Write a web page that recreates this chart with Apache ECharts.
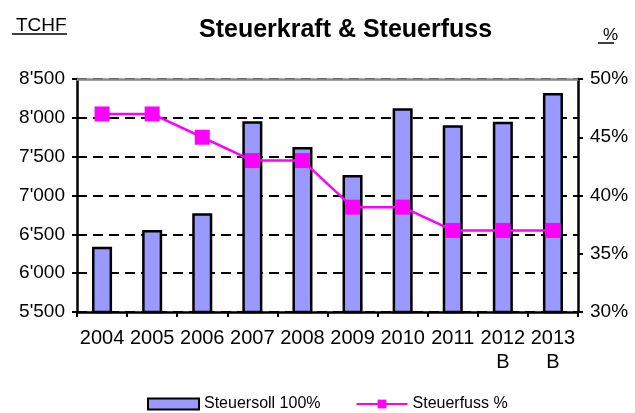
<!DOCTYPE html>
<html>
<head>
<meta charset="utf-8">
<script src="https://cdn.jsdelivr.net/npm/echarts@6/dist/echarts.min.js"></script>
<style>
  html, body { margin: 0; padding: 0; background: #fff; }
  #chart { width: 635px; height: 413px; }
</style>
</head>
<body>
<div id="chart"></div>
<script>
// data
var years = ['2004', '2005', '2006', '2007', '2008', '2009', '2010', '2011', '2012\nB', '2013\nB'];
var steuersoll = [6340, 6555, 6770, 7955, 7625, 7265, 8125, 7905, 7950, 8320];
var steuerfuss = [47, 47, 45, 43, 43, 39, 39, 37, 37, 37];

var font = '"Liberation Sans", Arial, sans-serif';

function fmtThousand(v) {
  var s = String(v);
  return s.length > 3 ? s.slice(0, s.length - 3) + "'" + s.slice(-3) : s;
}

var chart = echarts.init(document.getElementById('chart'));

chart.setOption({
  animation: false,
  title: [
    {
      text: 'Steuerkraft & Steuerfuss',
      left: 194, top: 13,
      textStyle: { fontFamily: font, fontSize: 25, fontWeight: 'bold', color: '#000' }
    },
    {
      text: 'TCHF',
      left: 11, top: 11,
      textStyle: { fontFamily: font, fontSize: 19, fontWeight: 'normal', color: '#000' }
    },
    {
      text: '%',
      left: 598, top: 22,
      textStyle: { fontFamily: font, fontSize: 17, fontWeight: 'normal', color: '#000' }
    }
  ],
  graphic: [
    { type: 'line', shape: { x1: 12, y1: 34, x2: 67, y2: 34 }, style: { stroke: '#000', lineWidth: 1.5 } },
    { type: 'line', shape: { x1: 598, y1: 43, x2: 614, y2: 43 }, style: { stroke: '#000', lineWidth: 1.5 } }
  ],
  legend: {
    top: 396,
    left: 147,
    padding: 0,
    itemGap: 35,
    itemWidth: 51,
    itemHeight: 11,
    textStyle: { fontFamily: font, fontSize: 16, color: '#000' },
    data: [{ name: 'Steuersoll 100%', icon: 'rect' }, { name: 'Steuerfuss %' }]
  },
  grid: { left: 77, right: 57, top: 79, bottom: 101 },
  xAxis: [
    {
      type: 'category',
      data: years,
      axisLine: { lineStyle: { color: '#000', width: 2.5 } },
      axisTick: { show: true, length: 5, lineStyle: { color: '#000', width: 2 } },
      axisLabel: { interval: 0, fontFamily: font, fontSize: 20, color: '#000', margin: 14, lineHeight: 24 }
    },
    {
      type: 'category',
      data: years,
      position: 'top',
      axisLine: { lineStyle: { color: '#888', width: 2.5 } },
      axisTick: { show: false },
      axisLabel: { show: false }
    }
  ],
  yAxis: [
    {
      type: 'value',
      min: 5500, max: 8500, interval: 500,
      axisLine: { show: true, lineStyle: { color: '#000', width: 2.5 } },
      axisTick: { show: true, length: 5, lineStyle: { color: '#000', width: 2 } },
      axisLabel: { fontFamily: font, fontSize: 19, color: '#000', margin: 12, formatter: fmtThousand },
      splitLine: { show: true, lineStyle: { color: '#000', width: 2, type: [10, 6] } }
    },
    {
      type: 'value',
      min: 30, max: 50, interval: 5,
      position: 'right',
      axisLine: { show: true, lineStyle: { color: '#000', width: 2.5 } },
      axisTick: { show: true, length: 5, lineStyle: { color: '#000', width: 2 } },
      axisLabel: { fontFamily: font, fontSize: 19, color: '#000', margin: 12, formatter: '{value}%' },
      splitLine: { show: false }
    }
  ],
  series: [
    {
      name: 'Steuersoll 100%',
      type: 'bar',
      data: steuersoll,
      barWidth: '40%',
      itemStyle: { color: '#9999FF', borderColor: '#000', borderWidth: 2.5 }
    },
    {
      name: 'Steuerfuss %',
      type: 'line',
      yAxisIndex: 1,
      data: steuerfuss,
      symbol: 'rect',
      symbolSize: 15,
      lineStyle: { color: '#FF00FF', width: 2.5 },
      itemStyle: { color: '#FF00FF' }
    }
  ]
});
</script>
</body>
</html>
